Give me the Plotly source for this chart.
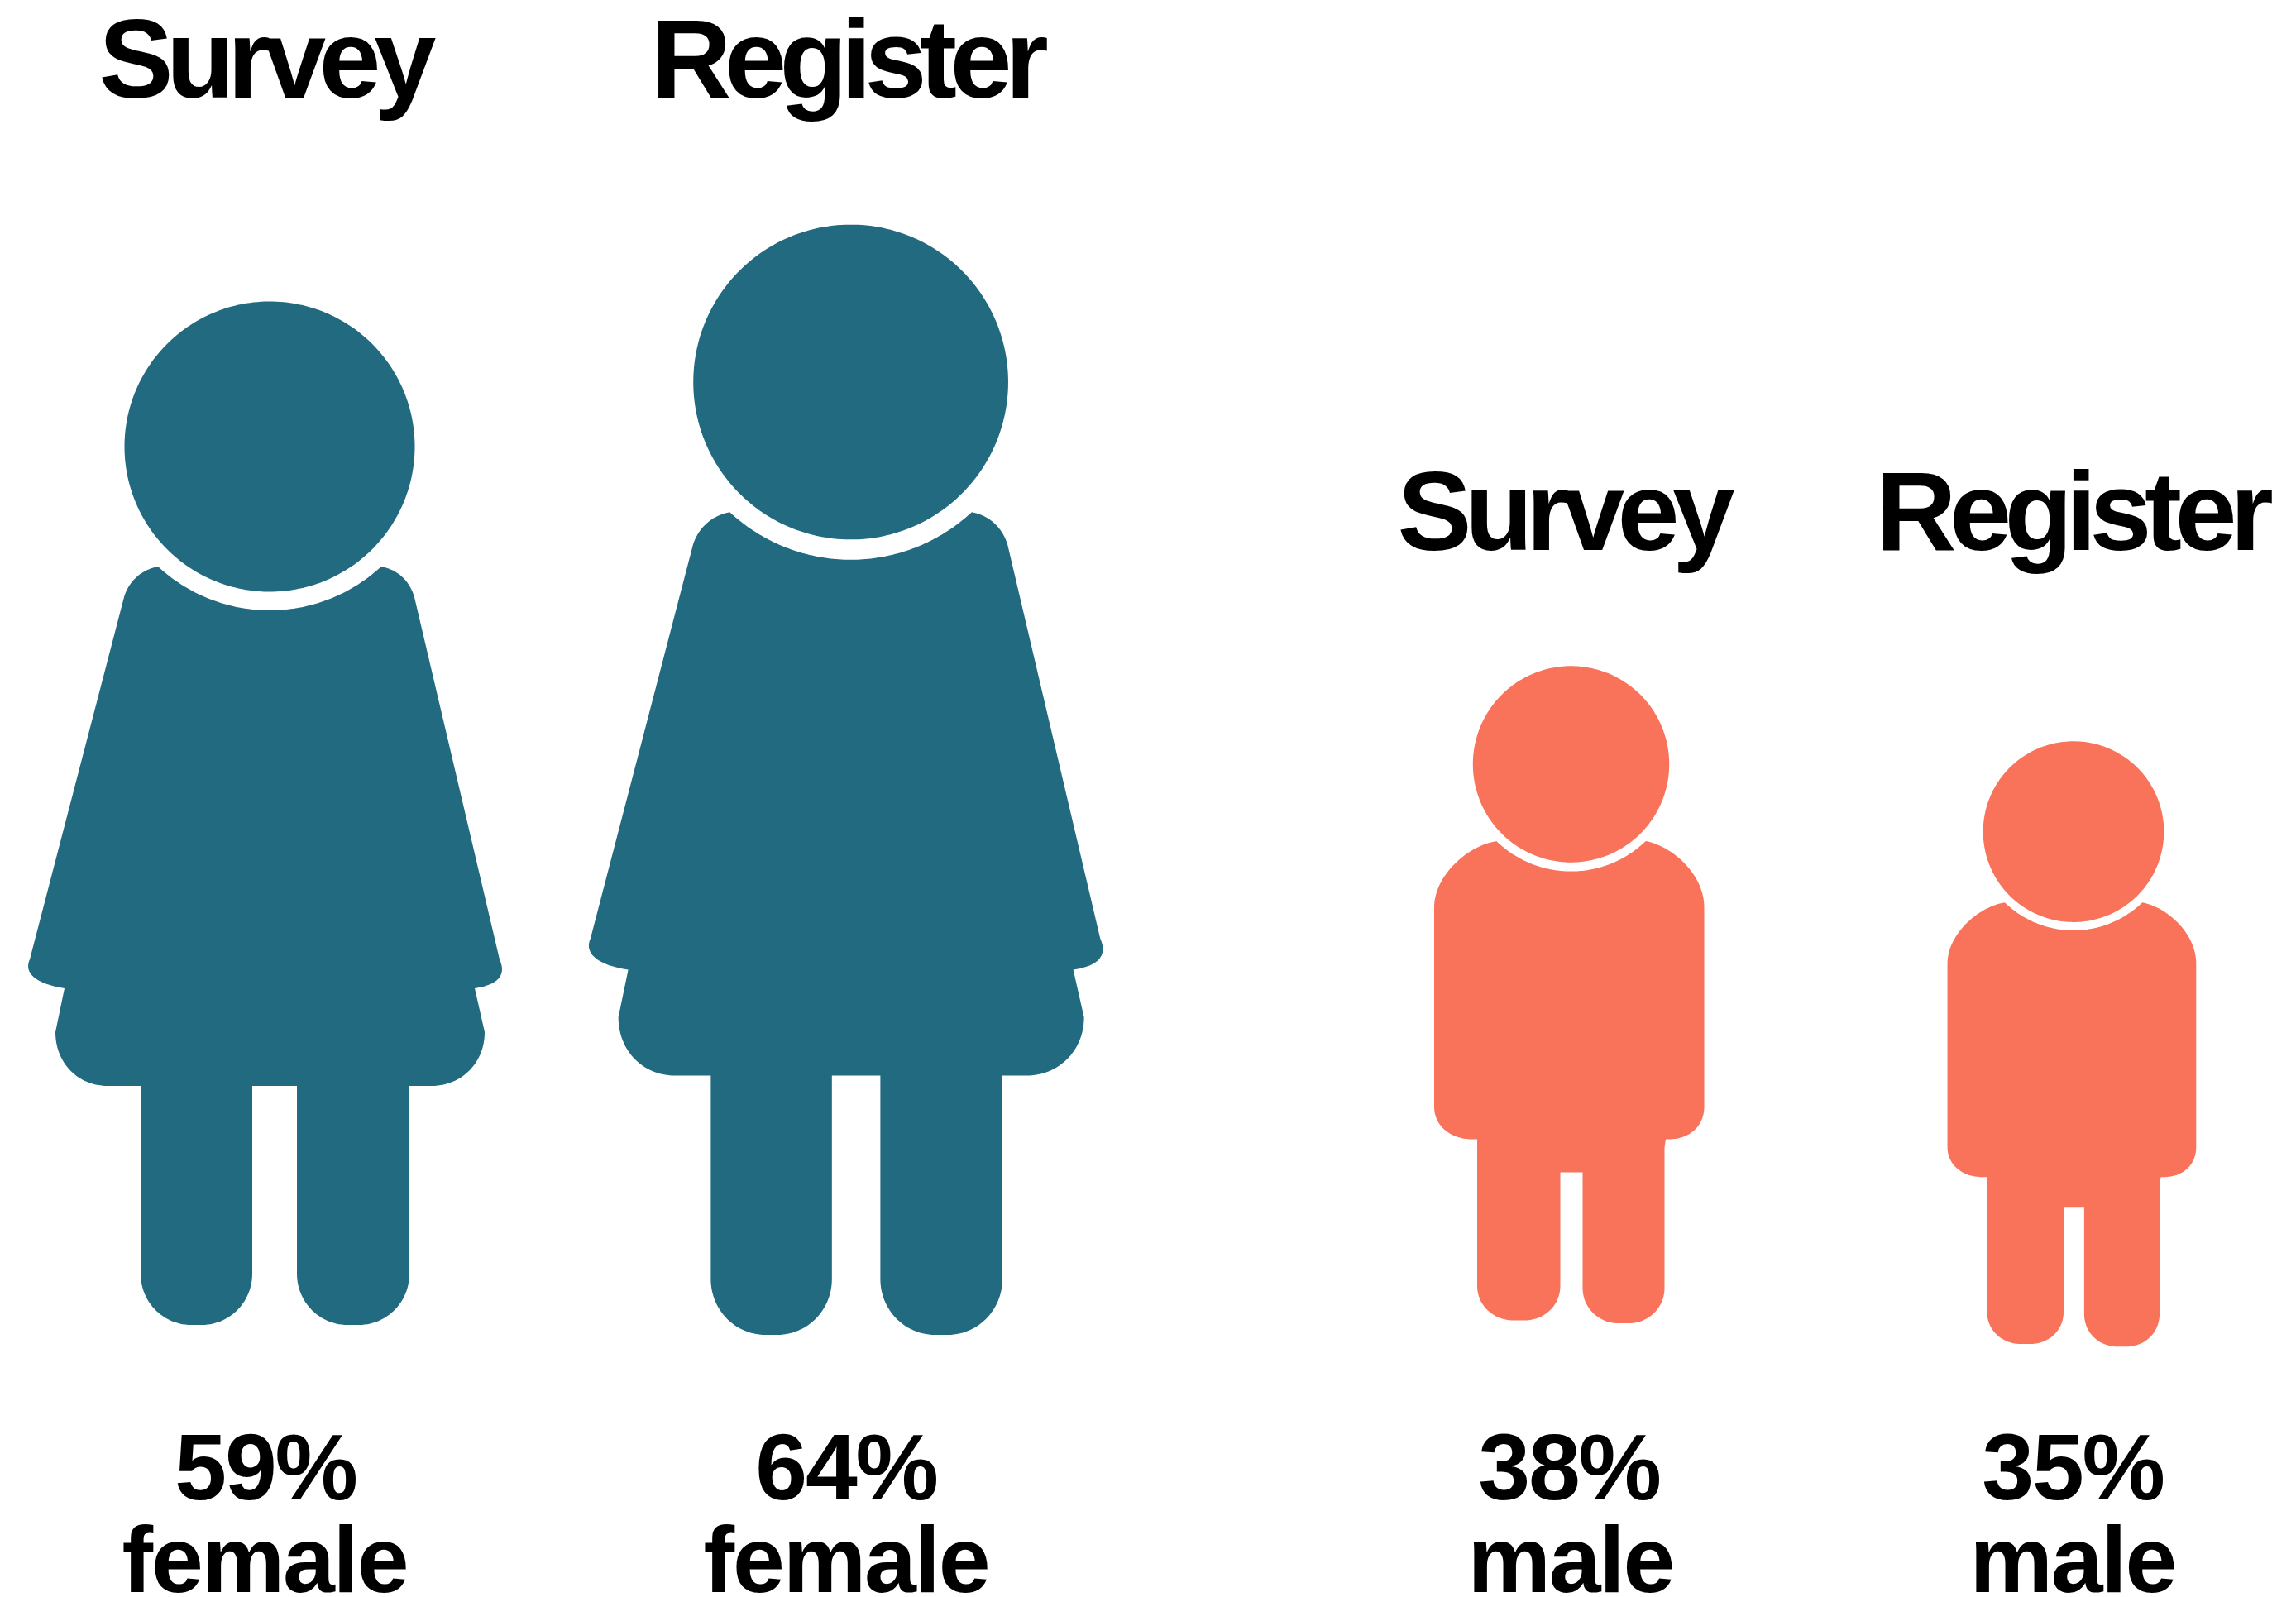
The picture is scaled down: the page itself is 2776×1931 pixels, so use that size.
import numpy as np
import plotly.graph_objects as go

# ---- data ----
methods = ["Survey", "Register", "Survey", "Register"]
shares = [59, 64, 38, 35]
genders = ["female", "female", "male", "male"]

# ---- placement and style ----
W, H = 2776, 1931
COLORS = {"female": "#216A7F", "male": "#F8735A"}
HEAD_X = [326, 1028.6, 1899.5, 2507]
HEAD_Y = [540, 462, 924, 1005.6]
TITLE_X = [319, 1023, 1889, 2504]
TITLE_BASE = [118, 118, 665, 665]
PCT_X = [321, 1023, 1897, 2506]
WORD_X = [320, 1023, 1899, 2506]
PCT_BASE, WORD_BASE = 1813, 1925
TITLE_SIZE, LABEL_SIZE = 135, 113
TITLE_SPACING, LABEL_SPACING = -8.5, -2.2
FONT = "Liberation Sans"


def bez(p0, p1, p2, p3, n=30):
    t = np.linspace(0, 1, n)[:, None]
    p0, p1, p2, p3 = map(np.array, (p0, p1, p2, p3))
    return ((1 - t) ** 3 * p0 + 3 * (1 - t) ** 2 * t * p1 + 3 * (1 - t) * t ** 2 * p2 + t ** 3 * p3).tolist()


def arc(r, a0, a1, n=100):
    a = np.linspace(a0, a1, n)
    return np.column_stack([r * np.cos(a), r * np.sin(a)]).tolist()


def outline(segments, gap_radius, tip_right, tip_left):
    """Join bezier (tuple) and straight (list) pieces, closing over the neck with an arc round the head."""
    pts = []
    for seg in segments:
        pts += bez(*seg) if isinstance(seg, tuple) else [list(s) for s in seg]
    a0 = np.arctan2(tip_right[1], tip_right[0])
    a1 = np.arctan2(tip_left[1], tip_left[0])
    pts += arc(gap_radius, a0, a1)
    return np.array(pts)


# Body silhouettes relative to head centre, at the share named by *_REF
FEMALE_REF, FEMALE_HEAD = 59, 175.5
FEMALE = outline([
    ((-135, 145), (-160, 150), (-172, 168), (-176, 182)),
    [(-176, 182), (-290, 620)],
    ((-290, 620), (-299, 640), (-275, 651), (-248, 655)),
    [(-248, 655), (-259, 708)],
    ((-259, 708), (-259, 745), (-232, 773), (-196, 773)),
    [(-196, 773), (-156, 773), (-156, 1000)],
    ((-156, 1000), (-156, 1034), (-129, 1062), (-95, 1062)),
    [(-95, 1062), (-82, 1062)],
    ((-82, 1062), (-48, 1062), (-21, 1034), (-21, 1000)),
    [(-21, 1000), (-21, 773), (33, 773), (33, 1000)],
    ((33, 1000), (33, 1034), (60, 1062), (94, 1062)),
    [(94, 1062), (108, 1062)],
    ((108, 1062), (142, 1062), (169, 1034), (169, 1000)),
    [(169, 1000), (169, 773), (196, 773)],
    ((196, 773), (232, 773), (260, 745), (260, 708)),
    [(260, 708), (248, 655)],
    ((248, 655), (275, 651), (287, 640), (278, 620)),
    [(278, 620), (175, 182)],
    ((175, 182), (171, 168), (160, 150), (135, 145)),
], 198, (135, 145), (-135, 145))

MALE_REF, MALE_HEAD = 38, 118.7
MALE = outline([
    ((-89.5, 93), (-125, 98), (-165.5, 135), (-165.5, 173)),
    [(-165.5, 173), (-165.5, 414)],
    ((-165.5, 414), (-165.5, 438), (-145, 453.5), (-119.5, 453.5)),
    [(-119.5, 453.5), (-113.5, 453.5), (-113.5, 630.5)],
    ((-113.5, 630.5), (-113.5, 656), (-92, 672.5), (-70, 672.5)),
    [(-70, 672.5), (-56, 672.5)],
    ((-56, 672.5), (-34, 672.5), (-13, 656), (-13, 630.5)),
    [(-13, 630.5), (-13, 493.5), (14, 493.5), (14, 633)],
    ((14, 633), (14, 659), (35, 676), (57, 676)),
    [(57, 676), (70, 676)],
    ((70, 676), (92, 676), (113, 659), (113, 633)),
    [(113, 633), (113, 463.5), (114.5, 453.5), (118, 453.5)],
    ((118, 453.5), (143, 453.5), (161, 438), (161, 414)),
    [(161, 414), (161, 173)],
    ((161, 173), (161, 135), (125, 100), (90.5, 93)),
], 129.6, (90.5, 93), (-89.5, 93))

GLYPHS = {"female": (FEMALE, FEMALE_REF, FEMALE_HEAD), "male": (MALE, MALE_REF, MALE_HEAD)}

fig = go.Figure()
for share, gender, hx, hy, method in zip(shares, genders, HEAD_X, HEAD_Y, methods):
    body, ref, head_r = GLYPHS[gender]
    s = share / ref
    head = np.array(arc(head_r, 0, 2 * np.pi, 240))
    xs = list(hx + s * head[:, 0]) + [None] + list(hx + s * body[:, 0])
    ys = list(hy + s * head[:, 1]) + [None] + list(hy + s * body[:, 1])
    fig.add_trace(go.Scatter(
        x=xs, y=ys, mode="lines", fill="toself", fillcolor=COLORS[gender],
        line=dict(width=0, color=COLORS[gender], simplify=False), hoverinfo="skip",
        name=f"{method} {share}% {gender}", showlegend=False,
    ))


def label(text, x, base, size):
    # middle-anchored text: the baseline sits about 0.345 em below the box middle
    fig.add_annotation(
        x=x, y=base - 0.345 * size, xref="x", yref="y", text=f"<b>{text}</b>",
        showarrow=False, xanchor="center", yanchor="middle",
        font=dict(family=FONT, size=size, color="#000000"),
    )


for i, share in enumerate(shares):
    label(methods[i], TITLE_X[i], TITLE_BASE[i], TITLE_SIZE)
    label(f"{share}%", PCT_X[i], PCT_BASE, LABEL_SIZE)
    label(genders[i], WORD_X[i], WORD_BASE, LABEL_SIZE)

fig.update_layout(
    width=W, height=H, margin=dict(l=0, r=0, t=0, b=0),
    paper_bgcolor="white", plot_bgcolor="white",
    xaxis=dict(range=[0, W], visible=False, fixedrange=True),
    yaxis=dict(range=[H, 0], visible=False, fixedrange=True),
)

post = """
document.body.style.margin = '0';
document.body.style.overflow = 'hidden';
document.querySelectorAll('.annotation-text').forEach(function (t) {
  var big = parseFloat(t.style.fontSize) > %d;
  t.style.letterSpacing = (big ? %s : %s) + 'px';
});
""" % ((TITLE_SIZE + LABEL_SIZE) // 2, TITLE_SPACING, LABEL_SPACING)

fig.write_html("out.html", post_script=post, config={"displayModeBar": False})
